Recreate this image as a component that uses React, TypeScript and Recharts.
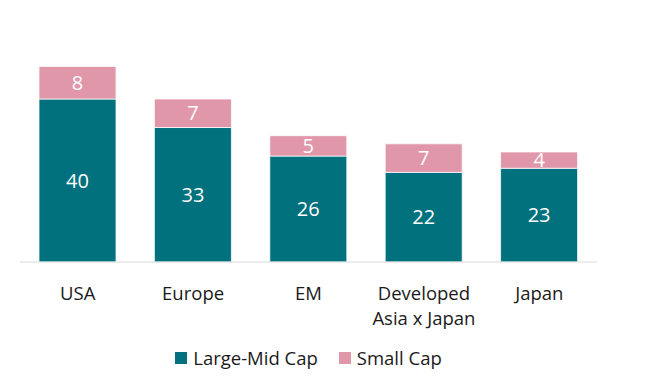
import React from 'react';
import { BarChart, Bar, XAxis, YAxis, Legend, LabelList } from 'recharts';

const regions = ['USA', 'Europe', 'EM', 'Developed\nAsia x Japan', 'Japan'];
const largeMidCap = [40, 33, 26, 22, 23];
const smallCap = [8, 7, 5, 7, 4];

const TEAL = '#00717d';
const PINK = '#e197aa';
const FONT = '"Open Sans", Lato, sans-serif';

const data = regions.map((region, i) => ({
  region,
  large: largeMidCap[i],
  small: smallCap[i],
}));

const RegionTick = (props: any) => {
  const { x, y, payload } = props;
  const lines: string[] = String(payload.value).split('\n');
  return (
    <text x={x} y={y} textAnchor="middle" fill="#1a1a1a" fontSize={18.5} fontFamily={FONT}>
      {lines.map((line, i) => (
        <tspan key={i} x={x} dy={i === 0 ? 30 : 25}>
          {line}
        </tspan>
      ))}
    </text>
  );
};

const LegendContent = () => (
  <div
    style={{
      display: 'flex',
      justifyContent: 'center',
      alignItems: 'center',
      gap: 21,
      paddingTop: 15,
      fontFamily: FONT,
      fontSize: 18.5,
      color: '#1a1a1a',
    }}
  >
    {[
      { name: 'Large-Mid Cap', color: TEAL },
      { name: 'Small Cap', color: PINK },
    ].map((item) => (
      <span key={item.name} style={{ display: 'flex', alignItems: 'center' }}>
        <span style={{ width: 12, height: 12, background: item.color, marginRight: 6, display: 'inline-block' }} />
        {item.name}
      </span>
    ))}
  </div>
);

export default function App() {
  return (
    <div style={{ position: 'absolute', left: 0, top: 0, width: 655, height: 392, background: '#fff' }}>
      <BarChart
        width={655}
        height={392}
        data={data}
        margin={{ top: 17.5, right: 58, bottom: 0, left: 20 }}
        barSize={77}
      >
        <XAxis
          dataKey="region"
          axisLine={{ stroke: '#d9d9d9' }}
          tickLine={false}
          tick={<RegionTick />}
          interval={0}
          height={68}
        />
        <YAxis hide domain={[0, 60]} />
        <Legend
          verticalAlign="bottom"
          height={62}
          content={<LegendContent />}
        />
        <Bar dataKey="large" name="Large-Mid Cap" stackId="a" fill={TEAL} stroke="#ffffff" strokeWidth={0.75} isAnimationActive={false}>
          <LabelList dataKey="large" position="center" fill="#ffffff" fontSize={20} fontFamily={FONT} />
        </Bar>
        <Bar dataKey="small" name="Small Cap" stackId="a" fill={PINK} stroke="#ffffff" strokeWidth={0.75} isAnimationActive={false}>
          <LabelList dataKey="small" position="center" fill="#ffffff" fontSize={20} fontFamily={FONT} />
        </Bar>
      </BarChart>
    </div>
  );
}
